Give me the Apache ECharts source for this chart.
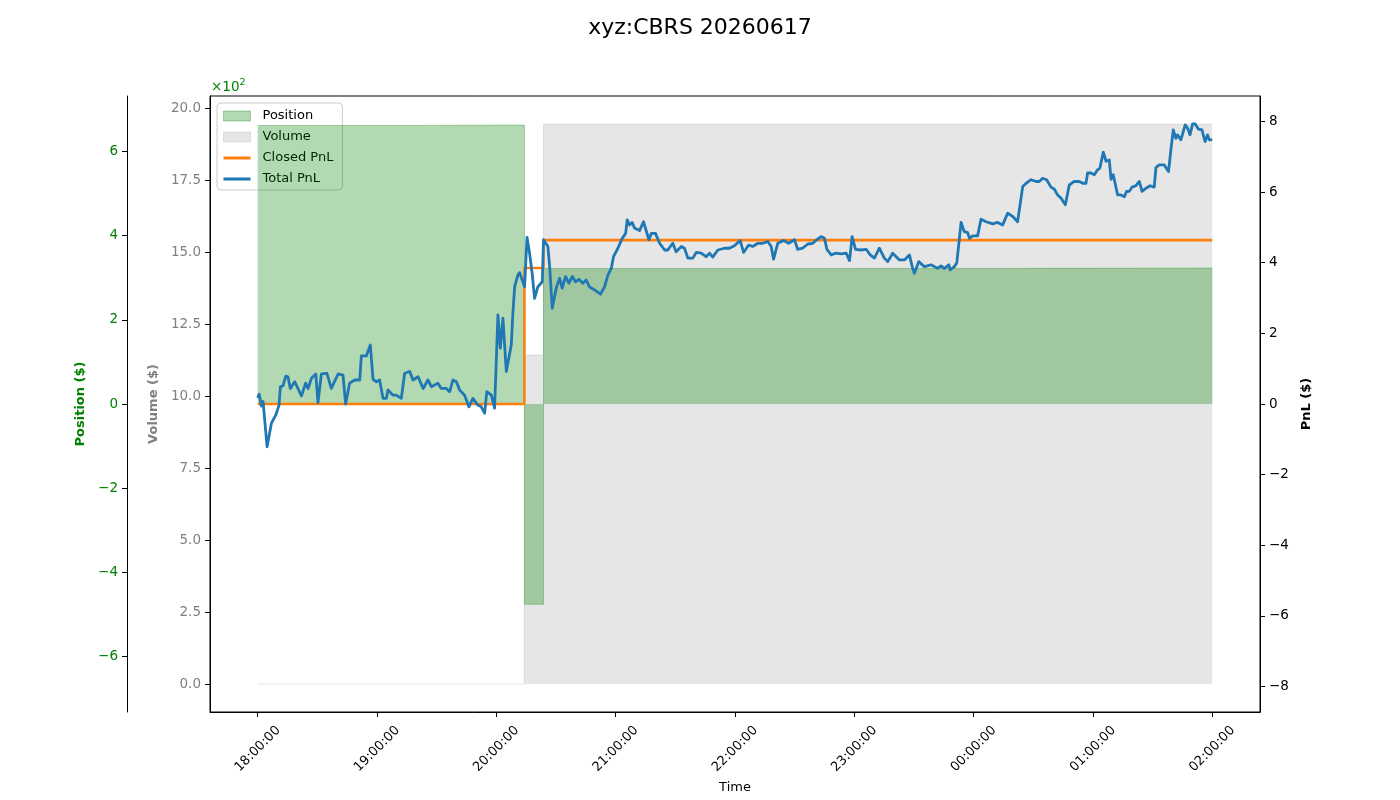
<!DOCTYPE html>
<html>
<head>
<meta charset="utf-8">
<title>xyz:CBRS 20260617</title>
<script src="https://cdn.jsdelivr.net/npm/echarts@6/dist/echarts.min.js"></script>
<style>
  html, body { margin: 0; padding: 0; background: #fff; }
  #chart { width: 1400px; height: 800px; }
</style>
</head>
<body>
<div id="chart"></div>
<script>
// x values are minutes after 18:00 (session 18:00 -> 02:00)
const timeTicks = [0, 60, 120, 180, 240, 300, 360, 420, 480];
const timeTickLabels = ['18:00:00', '19:00:00', '20:00:00', '21:00:00', '22:00:00',
  '23:00:00', '00:00:00', '01:00:00', '02:00:00'];

const positionTicks = [-600, -400, -200, 0, 200, 400, 600];
const volumeTicks = [0, 2.5, 5, 7.5, 10, 12.5, 15, 17.5, 20];
const pnlTicks = [-8, -6, -4, -2, 0, 2, 4, 6, 8];

// position ($), step series
const positionMinutes = [0, 60, 134.1, 143.7, 300, 480];
const positionValues = [662, 663, -476, 322, 323, 324];

// volume ($), step series
const volumeMinutes = [0, 134.1, 143.7, 480];
const volumeValues = [0, 11.42, 19.44, 19.44];

// closed pnl ($), step series
const closedMinutes = [0, 134.1, 143.7, 480];
const closedValues = [0, 3.85, 4.64, 4.64];

// total pnl ($)
const pnlMinutes = [
  0, 0.7, 1.9, 2.7, 4.7, 6.9, 9.1, 10.7, 11.4, 12.7, 14.1, 15.2, 16.4, 18.6, 22.0, 24.1,
  25.3, 27.0, 29.2, 30.3, 32.0, 34.8, 37.0, 40.4, 42.9, 44.2, 46.2, 48.8, 51.3, 52.1, 54.6,
  56.6, 58.0, 59.7, 61.3, 63.0, 64.7, 65.5, 68.0, 69.7, 72.2, 73.9, 76.4, 78.1, 80.6, 83.2,
  85.6, 87.3, 90.6, 92.3, 94.8, 96.5, 98.2, 99.9, 101.5, 104.0, 106.2, 108.2, 110.7, 112.4,
  114.1, 115.2, 117.5, 119.1, 120.8, 122.0, 123.3, 125.0, 127.5, 128.3, 129.2, 130.8, 131.7,
  133.0, 134.2, 135.4, 136.7, 138.1, 139.2, 140.9, 143.1, 143.7, 145.9, 146.8, 148.1, 150.1,
  151.8, 153.1, 154.8, 156.5, 158.2, 159.8, 161.5, 163.5, 165.2, 166.9, 169.4, 172.4, 174.4,
  176.1, 177.8, 178.9, 181.1, 183.3, 185.0, 185.8, 187.0, 188.3, 189.5, 192.0, 194.0, 196.7,
  197.9, 200.0, 202.1, 204.6, 206.2, 208.7, 210.4, 213.0, 214.6, 216.3, 218.8, 220.5, 223.0,
  225.5, 227.2, 228.8, 231.4, 234.7, 237.2, 239.7, 242.6, 244.3, 246.9, 248.9, 251.5, 254.0,
  256.5, 258.2, 259.4, 261.5, 264.4, 267.0, 269.9, 271.5, 274.0, 276.6, 279.1, 281.1, 283.3,
  285.0, 286.2, 288.4, 290.5, 293.4, 295.9, 297.6, 298.9, 300.6, 303.5, 306.0, 308.0, 310.1,
  312.6, 315.1, 316.8, 319.3, 322.7, 325.2, 327.7, 329.1, 330.2, 332.4, 335.2, 338.6, 341.9,
  343.6, 345.3, 347.5, 348.2, 350.3, 351.5, 353.7, 355.3, 357.0, 357.9, 359.5, 362.0, 363.7,
  366.3, 369.6, 372.1, 374.6, 377.1, 379.7, 382.1, 384.7, 386.4, 388.9, 391.4, 393.0, 394.7,
  396.7, 398.9, 400.6, 402.2, 403.9, 406.1, 408.1, 410.6, 413.1, 414.8, 416.5, 417.3, 419.0,
  420.7, 422.3, 423.5, 425.2, 426.6, 428.2, 429.1, 430.2, 431.2, 432.4, 434.1, 435.8, 436.9,
  438.3, 439.6, 441.6, 443.3, 444.7, 446.7, 448.7, 450.8, 451.7, 453.4, 455.8, 458.0, 459.2,
  460.4, 461.7, 462.5, 464.2, 466.4, 467.6, 468.8, 470.1, 471.4, 473.1, 474.8, 476.4, 477.6,
  478.5, 480
];
const pnlValues = [
  0.17, 0.28, -0.06, 0.07, -1.21, -0.54, -0.31, -0.03, 0.49, 0.51, 0.79, 0.77, 0.44, 0.63, 0.23, 0.59,
  0.44, 0.73, 0.85, 0.04, 0.85, 0.87, 0.44, 0.85, 0.82, 0.0, 0.59, 0.68, 0.68, 1.36, 1.36,
  1.67, 0.70, 0.63, 0.68, 0.16, 0.16, 0.40, 0.25, 0.25, 0.16, 0.87, 0.92, 0.68, 0.77, 0.44,
  0.68, 0.49, 0.59, 0.44, 0.44, 0.35, 0.68, 0.63, 0.40, 0.25, -0.08, 0.16, -0.03, -0.08,
  -0.26, 0.35, 0.25, -0.12, 2.52, 1.58, 2.43, 0.92, 1.67, 2.57, 3.32, 3.65, 3.72,
  3.51, 3.32, 4.72, 4.27, 3.65, 2.99, 3.32, 3.46, 4.65, 4.46, 3.89, 2.71, 3.28,
  3.56, 3.28, 3.61, 3.42, 3.61, 3.46, 3.53, 3.42, 3.51, 3.31, 3.23, 3.11, 3.32,
  3.65, 3.84, 4.17, 4.41, 4.69, 4.83, 5.21, 5.07, 5.14, 4.98, 4.91, 5.16, 4.65,
  4.83, 4.83, 4.55, 4.36, 4.36, 4.55, 4.31, 4.46, 4.41, 4.13, 4.13, 4.29, 4.27,
  4.17, 4.27, 4.16, 4.36, 4.41, 4.41, 4.48, 4.63, 4.29, 4.50, 4.46, 4.55, 4.55,
  4.60, 4.46, 4.10, 4.55, 4.63, 4.55, 4.65, 4.38, 4.41, 4.53, 4.55, 4.65, 4.74,
  4.69, 4.38, 4.22, 4.27, 4.25, 4.27, 4.06, 4.74, 4.38, 4.36, 4.38, 4.22, 4.13,
  4.41, 4.13, 4.03, 4.27, 4.08, 4.08, 4.22, 3.89, 3.70, 4.03, 3.89, 3.94, 3.84,
  3.91, 3.84, 3.94, 3.80, 3.89, 3.99, 5.14, 4.88, 4.85, 4.69, 4.76, 4.76, 5.23,
  5.16, 5.10, 5.14, 5.07, 5.40, 5.31, 5.16, 6.16, 6.25, 6.35, 6.30, 6.30, 6.39,
  6.35, 6.14, 6.08, 5.92, 5.83, 5.64, 6.20, 6.30, 6.30, 6.25, 6.25, 6.54, 6.54,
  6.49, 6.63, 6.68, 7.13, 6.87, 6.91, 6.36, 6.49, 6.49, 5.92, 5.92, 5.87, 6.02,
  6.02, 6.14, 6.18, 6.30, 6.02, 6.11, 6.18, 6.14, 6.70, 6.77, 6.77, 6.58, 7.20,
  7.76, 7.52, 7.62, 7.48, 7.90, 7.81, 7.62, 7.93, 7.93, 7.78, 7.76, 7.43, 7.62,
  7.48, 7.48
];

const zip = (xs, ys) => xs.map((x, i) => [x, ys[i]]);
const minus = (s) => String(s).replace('-', '\u2212');

const FONT = 'DejaVu Sans';
const GREEN = '#008000';
const GREY = '#808080';

const chart = echarts.init(document.getElementById('chart'), null, { renderer: 'canvas' });

const option = {
  backgroundColor: '#ffffff',
  animation: false,
  textStyle: { fontFamily: FONT },
  title: {
    text: 'xyz:CBRS 20260617',
    left: 'center',
    top: 12,
    textStyle: { fontSize: 22, fontWeight: 'normal', color: '#000', fontFamily: FONT }
  },
  grid: {
    left: 210, right: 140, top: 96, bottom: 88,
    show: true, borderColor: '#000', borderWidth: 1, backgroundColor: 'transparent'
  },
  legend: {
    orient: 'vertical',
    left: 217, top: 103,
    z: 1,
    itemWidth: 27, itemHeight: 10, itemGap: 7,
    padding: [6, 9, 4, 6],
    backgroundColor: 'rgba(255,255,255,0.8)',
    borderColor: '#cccccc', borderWidth: 1, borderRadius: 4,
    selectedMode: false,
    textStyle: { fontSize: 13, color: '#000', fontFamily: FONT, padding: [0, 0, 0, 7], lineHeight: 14 },
    data: [
      { name: 'Position', icon: 'rect', itemStyle: { color: 'rgba(0,128,0,0.3)', borderColor: 'rgba(0,128,0,0.3)', borderWidth: 1 } },
      { name: 'Volume', icon: 'rect', itemStyle: { color: 'rgba(128,128,128,0.2)', borderColor: 'rgba(128,128,128,0.2)', borderWidth: 1 } },
      { name: 'Closed PnL', icon: 'path://M0,0H27V3H0Z', itemStyle: { color: '#ff7f0e', borderWidth: 0 } },
      { name: 'Total PnL', icon: 'path://M0,0H27V3H0Z', itemStyle: { color: '#1f77b4', borderWidth: 0 } }
    ]
  },
  graphic: [{
    type: 'text',
    left: 211, top: 78,
    style: {
      text: '{a|\u00d710}{b|2}',
      rich: {
        a: { fontSize: 13.5, fill: GREEN, fontFamily: FONT },
        b: { fontSize: 9.5, fill: GREEN, fontFamily: FONT, padding: [0, 0, 8, 0] }
      }
    }
  }],
  xAxis: {
    type: 'value',
    min: -24, max: 504,
    name: 'Time',
    nameLocation: 'middle',
    nameGap: 68,
    nameTextStyle: { color: '#000', fontSize: 13 },
    splitLine: { show: false },
    axisLine: { onZero: false, lineStyle: { color: '#000' } },
    axisTick: { length: 5, customValues: timeTicks, lineStyle: { color: '#000' } },
    axisLabel: {
      customValues: timeTicks,
      formatter: (v) => timeTickLabels[timeTicks.indexOf(v)],
      rotate: 45, align: 'center', verticalAlign: 'middle', margin: 37,
      color: '#000', fontSize: 13
    }
  },
  yAxis: [
    {
      type: 'value', position: 'left', offset: 83,
      min: -732, max: 732,
      name: 'Position ($)', nameLocation: 'middle', nameGap: 35, nameRotate: 90,
      nameTextStyle: { color: GREEN, fontWeight: 'bold', fontSize: 13 },
      splitLine: { show: false },
      axisLine: { show: true, onZero: false, lineStyle: { color: '#000' } },
      axisTick: { show: true, length: 5, customValues: positionTicks, lineStyle: { color: '#000' } },
      axisLabel: { customValues: positionTicks, formatter: (v) => minus(Math.round(v / 100)), color: GREEN, fontSize: 13.5, margin: 9 }
    },
    {
      type: 'value', position: 'left', offset: 0,
      min: -0.972, max: 20.417,
      name: 'Volume ($)', nameLocation: 'middle', nameGap: 45, nameRotate: 90,
      nameTextStyle: { color: GREY, fontWeight: 'bold', fontSize: 13 },
      splitLine: { show: false },
      axisLine: { show: true, onZero: false, lineStyle: { color: '#000' } },
      axisTick: { show: true, length: 5, customValues: volumeTicks, lineStyle: { color: '#000' } },
      axisLabel: { customValues: volumeTicks, formatter: (v) => v.toFixed(1), color: GREY, fontSize: 13.5, margin: 9 }
    },
    {
      type: 'value', position: 'right',
      min: -8.72, max: 8.72,
      name: 'PnL ($)', nameLocation: 'middle', nameGap: 30, nameRotate: 90,
      nameTextStyle: { color: '#000', fontWeight: 'bold', fontSize: 13 },
      splitLine: { show: false },
      axisLine: { show: true, onZero: false, lineStyle: { color: '#000' } },
      axisTick: { show: true, length: 5, customValues: pnlTicks, lineStyle: { color: '#000' } },
      axisLabel: { customValues: pnlTicks, formatter: (v) => minus(v), color: '#000', fontSize: 13.5, margin: 9 }
    }
  ],
  series: [
    {
      name: 'Volume', type: 'line', yAxisIndex: 1, step: 'end',
      data: zip(volumeMinutes, volumeValues),
      symbol: 'none',
      itemStyle: { color: 'rgba(128,128,128,0.2)' },
      lineStyle: { color: 'rgba(128,128,128,0.2)', width: 1 },
      areaStyle: { color: 'rgba(128,128,128,0.2)', opacity: 1, origin: 0 }
    },
    {
      name: 'Position', type: 'line', yAxisIndex: 0, step: 'end',
      data: zip(positionMinutes, positionValues),
      symbol: 'none',
      itemStyle: { color: 'rgba(0,128,0,0.3)' },
      lineStyle: { color: 'rgba(0,128,0,0.3)', width: 1 },
      areaStyle: { color: 'rgba(0,128,0,0.3)', opacity: 1, origin: 0 }
    },
    {
      name: 'Closed PnL', type: 'line', yAxisIndex: 2, step: 'end',
      data: zip(closedMinutes, closedValues),
      symbol: 'none',
      itemStyle: { color: '#ff7f0e' },
      lineStyle: { color: '#ff7f0e', width: 2.6 }
    },
    {
      name: 'Total PnL', type: 'line', yAxisIndex: 2,
      data: zip(pnlMinutes, pnlValues),
      symbol: 'none',
      itemStyle: { color: '#1f77b4' },
      lineStyle: { color: '#1f77b4', width: 2.8, join: 'round' }
    }
  ]
};

chart.setOption(option);
</script>
</body>
</html>
